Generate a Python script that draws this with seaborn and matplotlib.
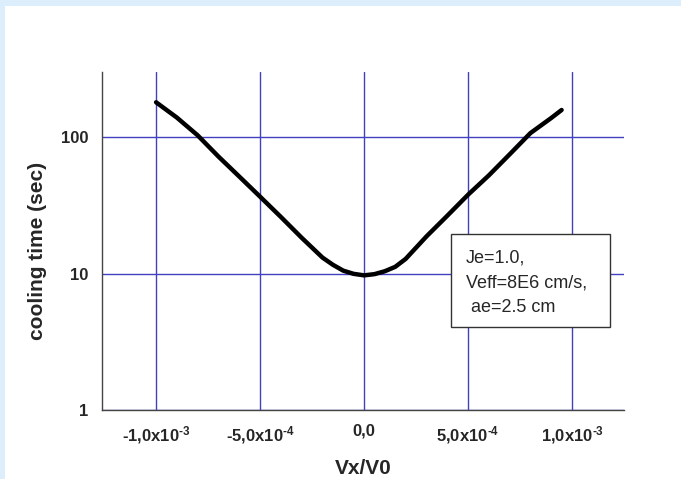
import matplotlib
matplotlib.use("Agg")
import matplotlib.pyplot as plt
import seaborn as sns
import pandas as pd
import numpy as np
from matplotlib.ticker import FixedLocator, LogLocator, NullFormatter, FixedFormatter
from matplotlib.patches import Rectangle

# Data
vx_v0 = [-1.0e-3, -0.9e-3, -0.8e-3, -0.7e-3, -0.6e-3, -0.5e-3, -0.4e-3, -0.3e-3,
         -0.2e-3, -0.15e-3, -0.1e-3, -0.05e-3, 0.0, 0.05e-3, 0.1e-3, 0.15e-3,
         0.2e-3, 0.3e-3, 0.4e-3, 0.5e-3, 0.6e-3, 0.7e-3, 0.8e-3, 0.9e-3, 0.95e-3]
cooling_time = [180, 139, 103, 72, 51.4, 36.6, 26.0, 18.3,
                13.1, 11.6, 10.5, 9.95, 9.7, 9.9, 10.4, 11.2,
                12.8, 18.7, 26.5, 37.8, 52.4, 74.7, 107, 138, 158]

x_ticks = [-1.0e-3, -5.0e-4, 0.0, 5.0e-4, 1.0e-3]
x_ticklabels = [r"-1,0x10$^{\text{-3}}$", r"-5,0x10$^{\text{-4}}$", "0,0",
                r"5,0x10$^{\text{-4}}$", r"1,0x10$^{\text{-3}}$"]
y_ticks = [1, 10, 100]
y_ticklabels = ["1", "10", "100"]
annotation_lines = ["Je=1.0,", "Veff=8E6 cm/s,", " ae=2.5 cm"]

df = pd.DataFrame({"Vx/V0": vx_v0, "cooling time (sec)": cooling_time})

sns.set_style("white")
plt.rcParams["font.family"] = ["Liberation Sans", "DejaVu Sans"]
plt.rcParams["mathtext.fontset"] = "custom"
plt.rcParams["mathtext.rm"] = "Liberation Sans:bold"
plt.rcParams["mathtext.bf"] = "Liberation Sans:bold"
plt.rcParams["mathtext.default"] = "rm"

fig = plt.figure(figsize=(6.81, 4.79), dpi=100, facecolor="#dcedfb")
fig.patches.append(Rectangle((5 / 681, 0), 1, 1 - 6 / 479, transform=fig.transFigure,
                             facecolor="white", edgecolor="none", zorder=-10))
ax = fig.add_axes([102 / 681, 69 / 479, (624 - 102) / 681, (410 - 72) / 479])
ax.set_facecolor("none")

sns.lineplot(data=df, x="Vx/V0", y="cooling time (sec)", ax=ax, color="black",
             lw=3.2, sort=False, zorder=3)

ax.set_yscale("log")
ax.set_xlim(-1.26e-3, 1.25e-3)
ax.set_ylim(1, 300)

ax.xaxis.set_major_locator(FixedLocator(x_ticks))
ax.xaxis.set_major_formatter(FixedFormatter(x_ticklabels))
ax.xaxis.set_minor_locator(FixedLocator([-1.25e-3, -7.5e-4, -2.5e-4, 2.5e-4, 7.5e-4, 1.25e-3]))
ax.yaxis.set_major_locator(FixedLocator(y_ticks))
ax.yaxis.set_major_formatter(FixedFormatter(y_ticklabels))
ax.yaxis.set_minor_locator(LogLocator(base=10, subs=np.arange(2, 10)))
ax.yaxis.set_minor_formatter(NullFormatter())

ax.grid(True, which="major", color="#4040c0", lw=1.0, zorder=1)
ax.set_axisbelow(True)

for s in ["top", "right"]:
    ax.spines[s].set_visible(False)
for s in ["left", "bottom"]:
    ax.spines[s].set_color("#444444")
    ax.spines[s].set_linewidth(1.0)

ax.tick_params(which="major", direction="out", length=5, width=1, color="#444444",
               labelsize=12, pad=5)
ax.tick_params(which="minor", direction="out", length=3, width=0.8, color="#777777")
for lab in ax.get_xticklabels() + ax.get_yticklabels():
    lab.set_fontweight("bold")

ax.set_xlabel("Vx/V0", fontsize=15, fontweight="bold")
ax.set_ylabel("cooling time (sec)", fontsize=15, fontweight="bold")
ax.xaxis.set_label_coords(0.5, -0.146)
ax.yaxis.set_label_coords(-0.106, 0.47)

# annotation box
ax.add_patch(Rectangle((0.6686, 0.2456), 0.973 - 0.6686, 0.5207 - 0.2456,
                       transform=ax.transAxes, facecolor="white", edgecolor="#333333",
                       lw=1.0, zorder=5))
for line, yy in zip(annotation_lines, [0.4497, 0.3757, 0.3018]):
    ax.text(0.697, yy, line, transform=ax.transAxes, fontsize=13, ha="left",
            va="center", zorder=6)

fig.savefig("out.png", dpi=100, facecolor=fig.get_facecolor())
